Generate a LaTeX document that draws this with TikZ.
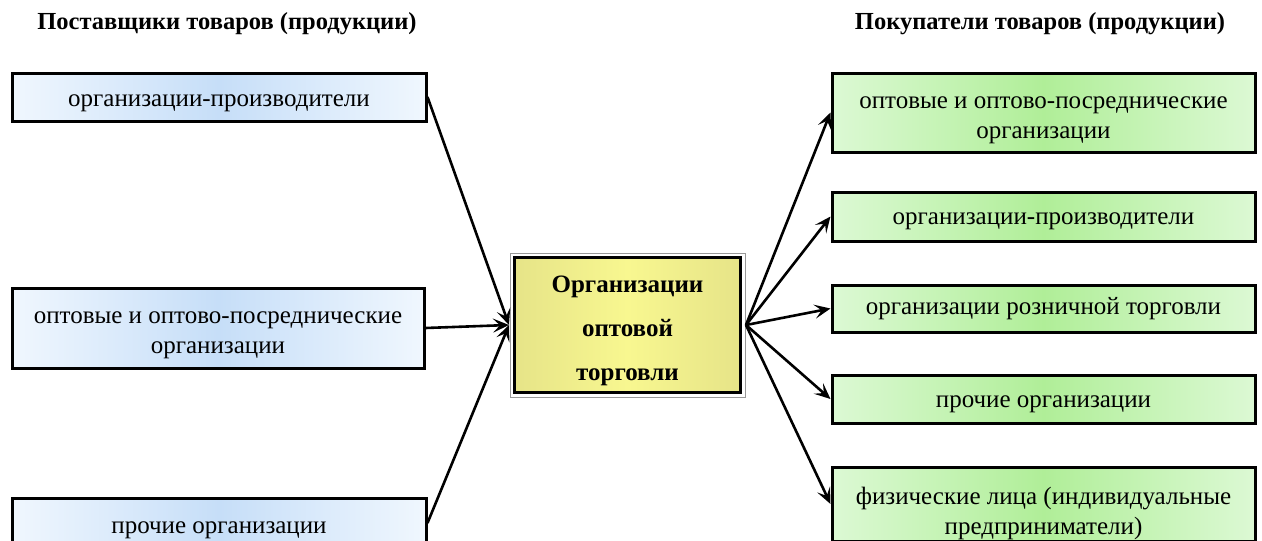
\documentclass[tikz,border=0pt]{standalone}
\usepackage{fontspec}
\setmainfont{Liberation Serif}
\usetikzlibrary{arrows.meta}
\definecolor{bedge}{HTML}{F0F7FE}
\definecolor{bmid}{HTML}{C6DEF8}
\definecolor{gedge}{HTML}{DCF9D4}
\definecolor{gmid}{HTML}{B0EE98}
\definecolor{yedge}{HTML}{E6E488}
\definecolor{ymid}{HTML}{F8F790}
\tikzset{
  src/.style={draw=black, line width=3pt, rectangle, inner sep=0pt,
    left color=bedge, right color=bedge, middle color=bmid},
  dst/.style={draw=black, line width=3pt, rectangle, inner sep=0pt,
    left color=gedge, right color=gedge, middle color=gmid},
  txt/.style={anchor=base, inner sep=0pt, align=center,
    font=\fontsize{25}{30}\selectfont},
  ctxt/.style={anchor=base, inner sep=0pt, align=center,
    font=\bfseries\fontsize{25}{44}\selectfont},
  title/.style={anchor=base, font=\bfseries\fontsize{24.5}{28}\selectfont, inner sep=0pt},
  arr/.style={line width=2.6pt, -{Stealth[length=16pt,width=14pt,inset=7pt]}},
}
\begin{document}
\begin{tikzpicture}[x=1pt,y=-1pt]
\useasboundingbox (0,0) rectangle (1262,541);
\node[title] (t1) at (227,29) {Поставщики товаров (продукции)};
\node[title] (t2) at (1040,29) {Покупатели товаров (продукции)};
% left boxes
\node[src, minimum width=414pt, minimum height=48pt] (l1) at (219,97) {};
\node[src, minimum width=412pt, minimum height=80pt] (l2) at (218,328) {};
\node[src, minimum width=414pt, minimum height=50pt] (l3) at (219,523) {};
\node[txt] (l1t) at (219,106) {организации-производители};
\node[txt] (l2t) at (218,353.5) {оптовые и оптово-посреднические\\организации};
\node[txt] (l3t) at (219,533) {прочие организации};
% center
\draw[draw=gray!80, line width=1pt] (510,253) rectangle (745,397);
\node[draw=black, line width=3pt, rectangle, inner sep=0pt,
  left color=yedge, right color=yedge, middle color=ymid,
  minimum width=226pt, minimum height=135pt] (c) at (627.5,325) {};
\node[ctxt] (ct) at (627.5,380) {Организации\\оптовой\\торговли};
% right boxes
\node[dst, minimum width=423pt, minimum height=79pt] (r1) at (1043.5,112.5) {};
\node[dst, minimum width=423pt, minimum height=49pt] (r2) at (1043.5,216.5) {};
\node[dst, minimum width=423pt, minimum height=47pt] (r3) at (1043.5,308.5) {};
\node[dst, minimum width=423pt, minimum height=48pt] (r4) at (1043.5,399) {};
\node[dst, minimum width=423pt, minimum height=74pt] (r5) at (1043.5,504) {};
\node[txt] (r1t) at (1043.5,138) {оптовые и оптово-посреднические\\организации};
\node[txt] (r2t) at (1043.5,224) {организации-производители};
\node[txt] (r3t) at (1043.5,314) {организации розничной торговли};
\node[txt] (r4t) at (1043.5,407) {прочие организации};
\node[txt] (r5t) at (1043.5,534.5) {физические лица (индивидуальные\\предприниматели)};
% arrows
\coordinate (cin) at (509,325);
\coordinate (cout) at (746,325);
\draw[arr] (l1.east) -- (cin);
\draw[arr] (l2.east) -- (cin);
\draw[arr] (l3.east) -- (cin);
\draw[arr] (cout) -- (r1.west);
\draw[arr] (cout) -- (r2.west);
\draw[arr] (cout) -- (r3.west);
\draw[arr] (cout) -- (r4.west);
\draw[arr] (cout) -- (r5.west);
\end{tikzpicture}
\end{document}
